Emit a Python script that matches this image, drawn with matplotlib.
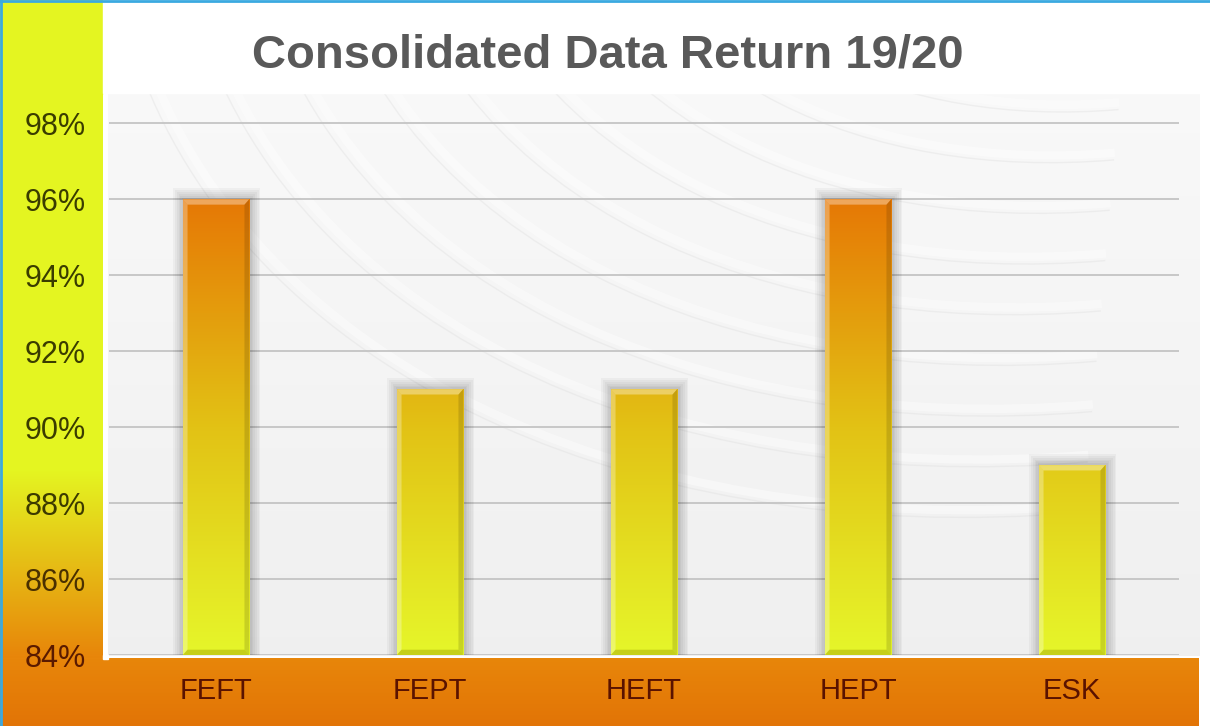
import numpy as np
import matplotlib
matplotlib.use("Agg")
import matplotlib.pyplot as plt
from matplotlib.colors import LinearSegmentedColormap, to_rgb
from matplotlib.patches import Rectangle, Polygon, Arc

# datos del grafico
categorias = ["FEFT", "FEPT", "HEFT", "HEPT", "ESK"]
valores = [96, 91, 91, 96, 89]
ticks_y = [84, 86, 88, 90, 92, 94, 96, 98]
etiquetas_y = [f"{t}%" for t in ticks_y]

W, H = 1210, 726
fig = plt.figure(figsize=(W / 100, H / 100), dpi=100)

# fondo: franja amarilla izquierda, banda naranja inferior, panel gris
fondo = np.ones((H, W, 3))
amarillo = np.array(to_rgb("#e4f521"))
naranja = np.array(to_rgb("#e8860a"))
naranja_osc = np.array(to_rgb("#e27406"))
for y in range(H):
    if y < 470:
        c = amarillo
    elif y < 655:
        t = (y - 470) / 185
        c = amarillo * (1 - t) + naranja * t
    else:
        t = (y - 655) / 71
        c = naranja * (1 - t) + naranja_osc * t
    fondo[y, 0:103] = c
for y in range(658, H):
    t = (y - 658) / 68
    fondo[y, 0:1199] = naranja * (1 - t) + naranja_osc * t
for y in range(93, 656):
    t = (y - 93) / 562
    g = 0.975 * (1 - t) + 0.94 * t
    fondo[y, 108:1200] = g

ax_bg = fig.add_axes([0, 0, 1, 1], zorder=0)
ax_bg.imshow(fondo, extent=[0, W, H, 0], aspect="auto", interpolation="bilinear")
ax_bg.set_xlim(0, W)
ax_bg.set_ylim(H, 0)
ax_bg.axis("off")

# trazos curvos suaves del fondo
for r in range(350, 1100, 70):
    ax_bg.add_patch(Arc((1150, -250), 2 * r, 1.4 * r, angle=-15, theta1=110, theta2=250,
                        color="white", lw=6, alpha=0.4))
    ax_bg.add_patch(Arc((1150, -250), 2 * r + 20, 1.4 * r + 14, angle=-15, theta1=110, theta2=250,
                        color="#dcdcdc", lw=1, alpha=0.35))
ax_bg.add_patch(Rectangle((0, 0), 103, 93, color="#e4f521", zorder=3))
ax_bg.add_patch(Rectangle((103, 0), 1107, 93, color="white", zorder=3))
ax_bg.add_patch(Rectangle((103, 655), 5, 4, color="white", zorder=3))

# borde azul
ax_bg.plot([0, W], [1, 1], color="#3aa9e0", lw=2, zorder=5)
ax_bg.plot([1, 1], [0, H], color="#3aa9e0", lw=2, zorder=5)

fig.text(0.502, 0.924, "Consolidated Data Return 19/20", ha="center", va="center",
         fontsize=34, fontweight="bold", color="#595959", family="Liberation Sans")

# eje principal
ax = fig.add_axes([109 / W, (H - 655) / H, 1070 / W, (655 - 93) / H], zorder=1)
ax.patch.set_alpha(0)
x = np.arange(len(categorias))
ax.set_xlim(-0.5, len(categorias) - 0.5)
ax.set_ylim(84, 98.8)
for t in ticks_y:
    ax.axhline(t, color="#c4c4c4", lw=1.3, zorder=1)

cmap = LinearSegmentedColormap.from_list("barra", [(0, "#e6f62a"), (0.5, "#e2c215"), (1, "#e67805")])
ancho = 0.31
dx = 0.022
dy = 0.14
for xi, v in zip(x, valores):
    x0, x1 = xi - ancho / 2, xi + ancho / 2
    # sombra
    for k in range(6):
        e = 0.008 * (k + 1)
        ax.add_patch(Rectangle((x0 - e + 0.004, 84), ancho + 2 * e, v - 84 + e * 6,
                               color="black", alpha=0.035, lw=0, zorder=2))
    grad = np.linspace(84, v, 256).reshape(-1, 1)
    im = ax.imshow(grad, extent=[x0, x1, 84, v], origin="lower", aspect="auto",
                   cmap=cmap, vmin=84, vmax=96, zorder=3)
    clip = Rectangle((x0, 84), ancho, v - 84, transform=ax.transData)
    im.set_clip_path(clip)
    # biseles
    ax.add_patch(Polygon([(x0, v), (x1, v), (x1 - dx, v - dy), (x0 + dx, v - dy)],
                         color="white", alpha=0.35, lw=0, zorder=4))
    ax.add_patch(Polygon([(x0, 84), (x0, v), (x0 + dx, v - dy), (x0 + dx, 84 + dy)],
                         color="white", alpha=0.3, lw=0, zorder=4))
    ax.add_patch(Polygon([(x1, 84), (x1, v), (x1 - dx, v - dy), (x1 - dx, 84 + dy)],
                         color="black", alpha=0.13, lw=0, zorder=4))
    ax.add_patch(Polygon([(x0, 84), (x1, 84), (x1 - dx, 84 + dy), (x0 + dx, 84 + dy)],
                         color="#8a8a00", alpha=0.35, lw=0, zorder=4))

ax.set_xlim(-0.5, len(categorias) - 0.5)
ax.set_ylim(84, 98.8)
ax.set_yticks(ticks_y)
ax.set_yticklabels(etiquetas_y, family="Liberation Sans", fontsize=22)
ax.set_xticks(x)
ax.set_xticklabels(categorias, family="Liberation Sans", fontsize=21, color="#5a1200")
colores_y = ["#5a1a00", "#4a3000", "#3c3a00", "#3a3c00", "#3a3c00", "#3a3c00", "#3a3c00", "#3a3c00"]
for lbl, c in zip(ax.get_yticklabels(), colores_y):
    lbl.set_color(c)
ax.tick_params(axis="y", length=0, pad=17)
ax.tick_params(axis="x", length=0, pad=16)
for s in ax.spines.values():
    s.set_visible(False)

fig.savefig("out.png", dpi=100)
